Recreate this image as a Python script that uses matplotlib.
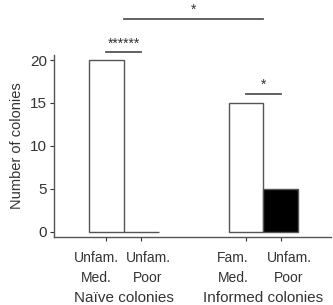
import matplotlib
matplotlib.use("Agg")
import matplotlib.pyplot as plt
from matplotlib.transforms import ScaledTranslation

plt.rcParams['font.family'] = ['Liberation Sans', 'DejaVu Sans']

# bar data
positions = [0, 1, 4, 5]
counts = [20, 0, 15, 5]
bar_colors = ["white", "white", "white", "black"]
tick_labels = ["Unfam.\nMed.", "Unfam.\nPoor", "Fam.\nMed.", "Unfam.\nPoor"]
group_labels = ["Naïve colonies", "Informed colonies"]
group_centers = [0.5, 4.5]

# significance brackets: (x0, x1, y, label)
brackets = [
    (0, 1, 20.9, "******"),
    (4, 5, 16.05, "*"),
    (0.5, 4.5, 24.8, "*"),
]

grey = "#555555"
text_col = "#333333"

fig = plt.figure(figsize=(3.33, 3.05), dpi=100)
ax = fig.add_axes([0.162, 0.223, 0.832, 0.597])

ax.bar(positions, counts, width=1.0, color=bar_colors, edgecolor=grey, linewidth=1.0)

ax.set_xlim(-1.49, 6.43)
ax.set_ylim(-0.6, 20.6)
ax.set_yticks([0, 5, 10, 15, 20])
ax.set_xticks(positions)
ax.set_xticklabels(tick_labels, fontsize=10, color=text_col, linespacing=1.6)
ax.tick_params(axis='y', labelsize=11, colors=text_col, length=3, width=0.8, pad=2)
ax.tick_params(axis='x', length=3, width=0.8, pad=7, colors=text_col)

# labels sit a little apart from their ticks within each pair
shifts = [-10, 7, -13, 8]
for lab, dx in zip(ax.get_xticklabels(), shifts):
    lab.set_transform(lab.get_transform() + ScaledTranslation(dx / 100, 0, fig.dpi_scale_trans))

ax.set_ylabel("Number of colonies", fontsize=10.5, color=text_col, labelpad=4)

for side in ["top", "right"]:
    ax.spines[side].set_visible(False)
for side in ["left", "bottom"]:
    ax.spines[side].set_color(grey)
    ax.spines[side].set_linewidth(1.0)

# group labels under the tick labels
for x, lab in zip(group_centers, group_labels):
    xf = fig.transFigure.inverted().transform(ax.transData.transform((x, 0)))[0]
    fig.text(xf, 0.022, lab, ha='center', va='center', fontsize=11, color=text_col)

for x0, x1, y, lab in brackets:
    ax.plot([x0, x1], [y, y], color=grey, linewidth=1.3, clip_on=False)
    ax.text((x0 + x1) / 2, y + 0.2, lab, ha='center', va='bottom', fontsize=10,
            color=text_col, clip_on=False)

fig.savefig("out.png", dpi=100)
